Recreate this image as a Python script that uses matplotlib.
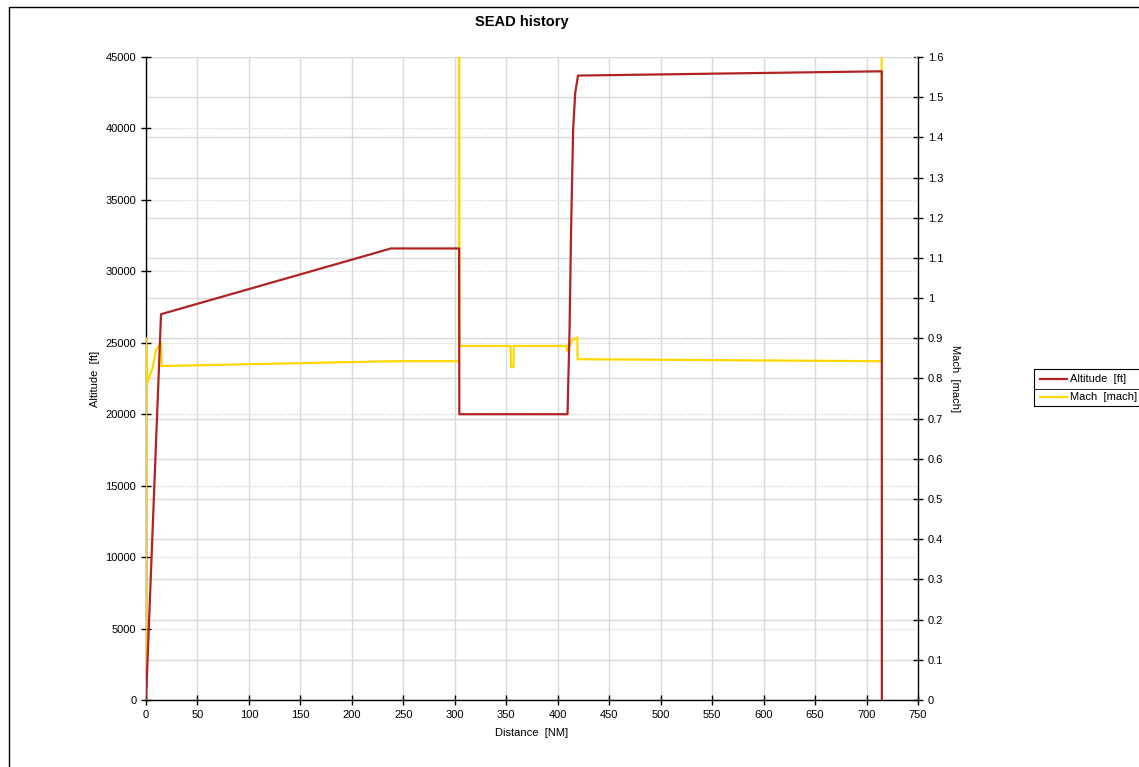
import matplotlib
matplotlib.use("Agg")
import matplotlib.pyplot as plt
from matplotlib.ticker import MultipleLocator, FuncFormatter
from matplotlib.patches import Rectangle
from matplotlib.lines import Line2D

plt.rcParams['font.family'] = ['Liberation Sans', 'DejaVu Sans']

# Mission profile: altitude vs distance
alt_dist = [0, 14.6, 238, 304.2, 304.4, 409.5, 411.5, 413, 415, 417, 419.7, 714.8, 714.9]
alt_ft = [0, 27000, 31600, 31600, 20000, 20000, 26000, 33000, 40000, 42500, 43700, 44000, 0]

# Mach number vs distance
mach_dist = [0, 0, 1.3, 6.4, 9.7, 14.6, 15.2, 240, 304, 304.1, 304.6, 354.2, 354.6, 357,
             357.4, 408.6, 409, 414.4, 419, 419.3, 714.5, 714.8]
mach = [0, 0.90, 0.79, 0.826, 0.871, 0.888, 0.831, 0.843, 0.843, 2.0, 0.881, 0.881, 0.828,
        0.828, 0.881, 0.881, 0.869, 0.896, 0.902, 0.848, 0.843, 2.0]

W, H = 1139, 767
fig = plt.figure(figsize=(W / 100, H / 100), dpi=100)

# outer frame
fig.patches.append(Rectangle((9 / W, -0.05), 1.2, 1 - 7 / H + 0.05, transform=fig.transFigure,
                             fill=False, edgecolor='black', linewidth=1.0))

ax = fig.add_axes([146 / W, 1 - 700 / H, (918 - 146) / W, (700 - 57) / H])
ax2 = ax.twinx()

red = '#B22222'
gold = '#FFD700'

ax.set_xlim(0, 750)
ax.set_ylim(0, 45000)
ax2.set_ylim(0, 1.6)

# both traces live in the primary axes so they sit above the spines;
# the Mach trace uses the secondary axis' data transform
ax.plot(mach_dist, mach, color=gold, linewidth=1.6, transform=ax2.transData, zorder=2.6)
ax.plot(alt_dist, alt_ft, color=red, linewidth=1.6, zorder=3)

ax.xaxis.set_major_locator(MultipleLocator(50))
ax.yaxis.set_major_locator(MultipleLocator(5000))
ax2.yaxis.set_major_locator(MultipleLocator(0.1))
ax2.yaxis.set_major_formatter(FuncFormatter(lambda v, p: '%g' % round(v, 2)))

grid_col = '#d9d9d9'
ax.grid(axis='x', color=grid_col, linewidth=1.0, linestyle='-')
ax.grid(axis='y', color=grid_col, linewidth=1.0, linestyle=(0, (1, 1)))
ax2.grid(axis='y', color=grid_col, linewidth=1.0, linestyle='-')

ax.set_zorder(ax2.get_zorder() + 1)
ax.patch.set_visible(False)

for a in (ax, ax2):
    a.spines['top'].set_visible(False)
    for s in a.spines.values():
        s.set_color('black')
        s.set_linewidth(1.0)
    a.tick_params(direction='inout', length=7, width=1.0, labelsize=8, colors='black')
ax2.spines['left'].set_visible(False)
ax2.spines['bottom'].set_visible(False)
ax.spines['right'].set_visible(False)

ax.set_xlabel('Distance  [NM]', fontsize=8, labelpad=6)
ax.set_ylabel('Altitude  [ft]', fontsize=8, labelpad=4)
ax2.set_ylabel('Mach  [mach]', fontsize=8, rotation=270, labelpad=12)

fig.text(522 / W, 1 - 22 / H, 'SEAD history', ha='center', va='center',
         fontsize=10.5, fontweight='bold')

# legend box with separator
lx0, ly0, lx1, ly1 = 1034, 369, 1145, 406
fig.patches.append(Rectangle((lx0 / W, 1 - ly1 / H), (lx1 - lx0) / W, (ly1 - ly0) / H,
                             transform=fig.transFigure, fill=False, edgecolor='black',
                             linewidth=0.8))
fig.lines.append(Line2D([lx0 / W, lx1 / W], [1 - 388.5 / H] * 2, transform=fig.transFigure,
                        color='black', linewidth=0.6))
fig.lines.append(Line2D([1040 / W, 1067 / W], [1 - 379 / H] * 2, transform=fig.transFigure,
                        color=red, linewidth=1.6))
fig.lines.append(Line2D([1040 / W, 1067 / W], [1 - 397 / H] * 2, transform=fig.transFigure,
                        color=gold, linewidth=1.6))
fig.text(1070 / W, 1 - 379 / H, 'Altitude  [ft]', fontsize=8, va='center', ha='left')
fig.text(1070 / W, 1 - 397 / H, 'Mach  [mach]', fontsize=8, va='center', ha='left')

fig.savefig('out.png', dpi=100)
